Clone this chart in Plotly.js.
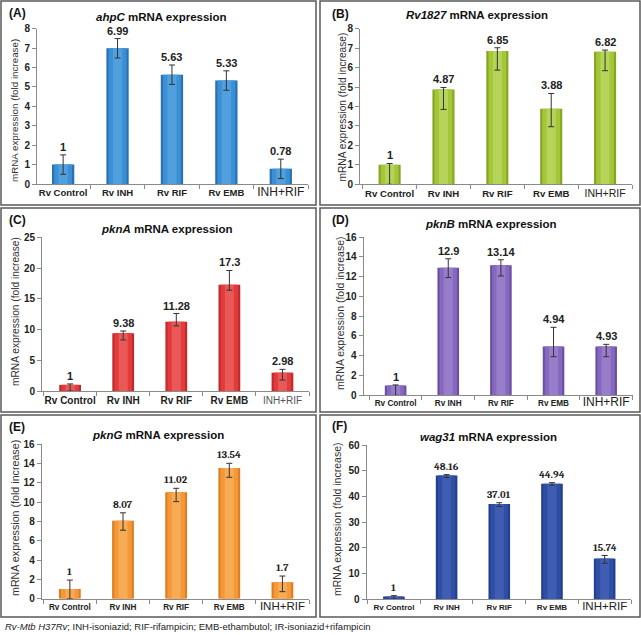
<!DOCTYPE html>
<html>
<head>
<meta charset="utf-8">
<script src="https://cdn.plot.ly/plotly-3.0.1.min.js"></script>
<style>
  html, body { margin: 0; padding: 0; background: #fff; }
  #chart { width: 641px; height: 635px; }
</style>
</head>
<body>
<div id="chart"></div>
<script>
/* categories */
const groups = ['Rv Control', 'Rv INH', 'Rv RIF', 'Rv EMB', 'INH+RIF'];

/* (A) ahpC */
const ahpC     = [1, 6.99, 5.63, 5.33, 0.78];
const ahpCUp   = [0.5, 0.5, 0.5, 0.5, 0.5];
const ahpCDown = [0.5, 0.5, 0.5, 0.5, 0.5];

/* (B) Rv1827 */
const rv1827     = [1, 4.87, 6.85, 3.88, 6.82];
const rv1827Up   = [0.07, 0.11, 0.17, 0.79, 0.08];
const rv1827Down = [1.0, 1.02, 0.98, 0.92, 0.98];

/* (C) pknA */
const pknA     = [1, 9.38, 11.28, 17.3, 2.98];
const pknAUp   = [0.15, 0.38, 1.32, 2.3, 0.54];
const pknADown = [1.0, 1.08, 0.68, 0.9, 1.19];

/* (D) pknB */
const pknB     = [1, 12.9, 13.14, 4.94, 4.93];
const pknBUp   = [0.05, 0.9, 0.56, 1.93, 0.22];
const pknBDown = [1.0, 1.0, 1.08, 1.04, 1.03];

/* (E) pknG */
const pknG     = [1, 8.07, 11.02, 13.54, 1.7];
const pknGUp   = [0.93, 0.83, 0.42, 0.49, 0.65];
const pknGDown = [1.0, 0.97, 0.96, 0.96, 0.97];

/* (F) wag31 */
const wag31     = [1, 48.16, 37.01, 44.94, 15.74];
const wag31Up   = [0.3, 0.3, 0.5, 0.4, 1.2];
const wag31Down = [1.0, 0.8, 1.0, 0.6, 1.8];

const yTitle = 'mRNA expression (fold increase)';
const footnote = '<i>Rv-Mtb H37Rv</i>; INH-isoniazid; RIF-rifampicin; EMB-ethambutol; IR-isoniazid+rifampicin';

/* page geometry (px) -> paper */
const W = 641, H = 635;
const px = x => x / W;
const py = y => 1 - y / H;

const SANS  = 'Arial, "Liberation Sans", sans-serif';
const SERIF = 'Cambria, "Liberation Serif", serif';

/* panel settings: box = border, plot = [x0, x1, yTop, yBottom], x0r = left end of category range
   colors = [edge, body, light centre] for the shaded bar look */
const panels = [
  { tag: '(A)', gene: 'ahpC',   vals: ahpC,   up: ahpCUp,   down: ahpCDown,   ymax: 8,  dtick: 1,
    colors: ['#2a70b5', '#3b8fd4', '#5aa6e2'], box: [1, 1, 316, 205], plot: [37, 308, 28.7, 184], x0r: -0.48,
    tagPos: [7, 13], titlePos: [161.5, 17], yTitlePos: [15, 111], yTitleSize: 9.8,
    boldSize: 9.5, plainSize: 12, plainColor: '#222', valFont: SANS, valSize: 11 },
  { tag: '(B)', gene: 'Rv1827', vals: rv1827, up: rv1827Up, down: rv1827Down, ymax: 8,  dtick: 1,
    colors: ['#86a622', '#a4c639', '#bcd865'], box: [320, 1, 640, 205], plot: [360, 632, 28.7, 184.3], x0r: -0.55,
    tagPos: [330, 13.5], titlePos: [477, 14.5], yTitlePos: [341.5, 107], yTitleSize: 10.2,
    boldSize: 9.6, plainSize: 10.5, plainColor: '#222', valFont: SANS, valSize: 11 },
  { tag: '(C)', gene: 'pknA',   vals: pknA,   up: pknAUp,   down: pknADown,   ymax: 25, dtick: 5,
    colors: ['#c02a2a', '#e23b3b', '#ec6461'], box: [1, 208, 316, 412], plot: [42, 309, 237.3, 391], x0r: -0.53,
    tagPos: [7, 220], titlePos: [166.7, 229], yTitlePos: [15, 312], yTitleSize: 10.2,
    boldSize: 10, plainSize: 10, plainColor: '#555', valFont: SANS, valSize: 11 },
  { tag: '(D)', gene: 'pknB',   vals: pknB,   up: pknBUp,   down: pknBDown,   ymax: 16, dtick: 2,
    colors: ['#6a50a5', '#8669bf', '#9c84cd'], box: [320, 208, 640, 412], plot: [363.5, 632.5, 237, 395.3], x0r: -0.61,
    tagPos: [330, 220], titlePos: [491, 224], yTitlePos: [340, 314], yTitleSize: 10.5,
    boldSize: 8.2, plainSize: 12, plainColor: '#222', valFont: SANS, valSize: 11 },
  { tag: '(E)', gene: 'pknG',   vals: pknG,   up: pknGUp,   down: pknGDown,   ymax: 16, dtick: 2,
    colors: ['#df7e20', '#f4983a', '#f8b15e'], box: [1, 415, 316, 617], plot: [41.7, 309, 444.3, 598.7], x0r: -0.53,
    tagPos: [7, 427], titlePos: [158, 435], yTitlePos: [15, 518], yTitleSize: 10.7,
    boldSize: 8.2, plainSize: 11.5, plainColor: '#222', valFont: SERIF, valSize: 10.5 },
  { tag: '(F)', gene: 'wag31',  vals: wag31,  up: wag31Up,  down: wag31Down,  ymax: 60, dtick: 10,
    colors: ['#233f90', '#2f4fa5', '#4563b8'], box: [320, 415, 640, 617], plot: [366.5, 631, 445, 599], x0r: -0.52,
    tagPos: [330, 426], titlePos: [488, 437], yTitlePos: [337, 520], yTitleSize: 10.5,
    boldSize: 8, plainSize: 11.5, plainColor: '#222', valFont: SERIF, valSize: 10.5 }
];

const traces = [];
const annotations = [];
const shapes = [];
const layout = {
  width: W, height: H,
  margin: { l: 0, r: 0, t: 0, b: 0 },
  paper_bgcolor: '#fff', plot_bgcolor: '#fff',
  showlegend: false,
  barmode: 'overlay',
  font: { family: SANS, color: '#222' }
};

panels.forEach((p, i) => {
  const n = i ? String(i + 1) : '';
  const xa = 'x' + n, ya = 'y' + n;

  // outer bar + two lighter inner bands to fake the gradient fill
  [[0.41, 0], [0.33, 1], [0.17, 2]].forEach(([w, c], j) => {
    traces.push({
      type: 'bar', x: groups, y: p.vals, xaxis: xa, yaxis: ya,
      width: w,
      marker: { color: p.colors[c], line: { width: 0 }, opacity: j === 2 ? 0.75 : 1 },
      hoverinfo: 'skip'
    });
  });
  traces.push({
    type: 'bar', x: groups, y: p.vals, xaxis: xa, yaxis: ya,
    width: 0.41,
    marker: { color: 'rgba(0,0,0,0)', line: { width: 0 } },
    error_y: { type: 'data', symmetric: false, array: p.up, arrayminus: p.down,
               color: '#333', thickness: 1, width: 3 },
    hoverinfo: 'x+y'
  });

  layout['xaxis' + n] = {
    anchor: ya, domain: [px(p.plot[0]), px(p.plot[1])],
    type: 'category', range: [p.x0r, 4.5], fixedrange: true,
    tickvals: groups,
    ticktext: groups.map(g => g.startsWith('Rv') ? `<b>${g}</b>`
      : `<span style="font-size:${p.plainSize}px;fill:${p.plainColor}">${g}</span>`),
    tickfont: { family: SANS, size: p.boldSize, color: '#222' },
    tickangle: 0,
    showline: true, linecolor: '#8a8a8a', linewidth: 1,
    ticks: 'outside', tickson: 'boundaries', ticklen: 4, tickcolor: '#8a8a8a',
    showgrid: false, zeroline: false, automargin: false
  };
  layout['yaxis' + n] = {
    anchor: xa, domain: [py(p.plot[3]), py(p.plot[2])],
    range: [0, p.ymax], dtick: p.dtick, fixedrange: true,
    tickfont: { family: SANS, size: 10, color: '#222', weight: 'bold' },
    showline: true, linecolor: '#8a8a8a', linewidth: 1,
    ticks: 'outside', ticklen: 4, tickcolor: '#8a8a8a',
    showgrid: false, zeroline: false, automargin: false
  };

  /* value labels above the error caps */
  groups.forEach((g, k) => {
    annotations.push({
      xref: xa, yref: ya, x: g, y: p.vals[k] + p.up[k],
      text: `<b>${p.vals[k]}</b>`, showarrow: false, yanchor: 'bottom', yshift: 0,
      font: { family: p.valFont, size: p.valSize, color: '#222' }
    });
  });

  /* panel tag, title, y title */
  annotations.push({
    xref: 'paper', yref: 'paper', x: px(p.tagPos[0]), y: py(p.tagPos[1]),
    xanchor: 'left', yanchor: 'middle', showarrow: false,
    text: `<b>${p.tag}</b>`, font: { family: SANS, size: 12, color: '#111' }
  });
  annotations.push({
    xref: 'paper', yref: 'paper', x: px(p.titlePos[0]), y: py(p.titlePos[1]),
    xanchor: 'center', yanchor: 'middle', showarrow: false,
    text: `<b><i>${p.gene}</i> mRNA expression</b>`, font: { family: SANS, size: 11.5, color: '#111' }
  });
  annotations.push({
    xref: 'paper', yref: 'paper', x: px(p.yTitlePos[0]), y: py(p.yTitlePos[1]),
    xanchor: 'center', yanchor: 'middle', showarrow: false, textangle: -90,
    text: yTitle, font: { family: SANS, size: p.yTitleSize, color: '#333' }
  });

  /* panel border */
  shapes.push({
    type: 'rect', xref: 'paper', yref: 'paper',
    x0: px(p.box[0]), x1: px(p.box[2]), y0: py(p.box[3]), y1: py(p.box[1]),
    line: { color: '#5a5a5a', width: 1.5 }, fillcolor: 'rgba(0,0,0,0)'
  });
});

annotations.push({
  xref: 'paper', yref: 'paper', x: px(3), y: py(626),
  xanchor: 'left', yanchor: 'middle', showarrow: false,
  text: footnote, font: { family: SANS, size: 9.5, color: '#222' }
});

layout.annotations = annotations;
layout.shapes = shapes;

Plotly.newPlot('chart', traces, layout, { displayModeBar: false, staticPlot: true });
</script>
</body>
</html>
